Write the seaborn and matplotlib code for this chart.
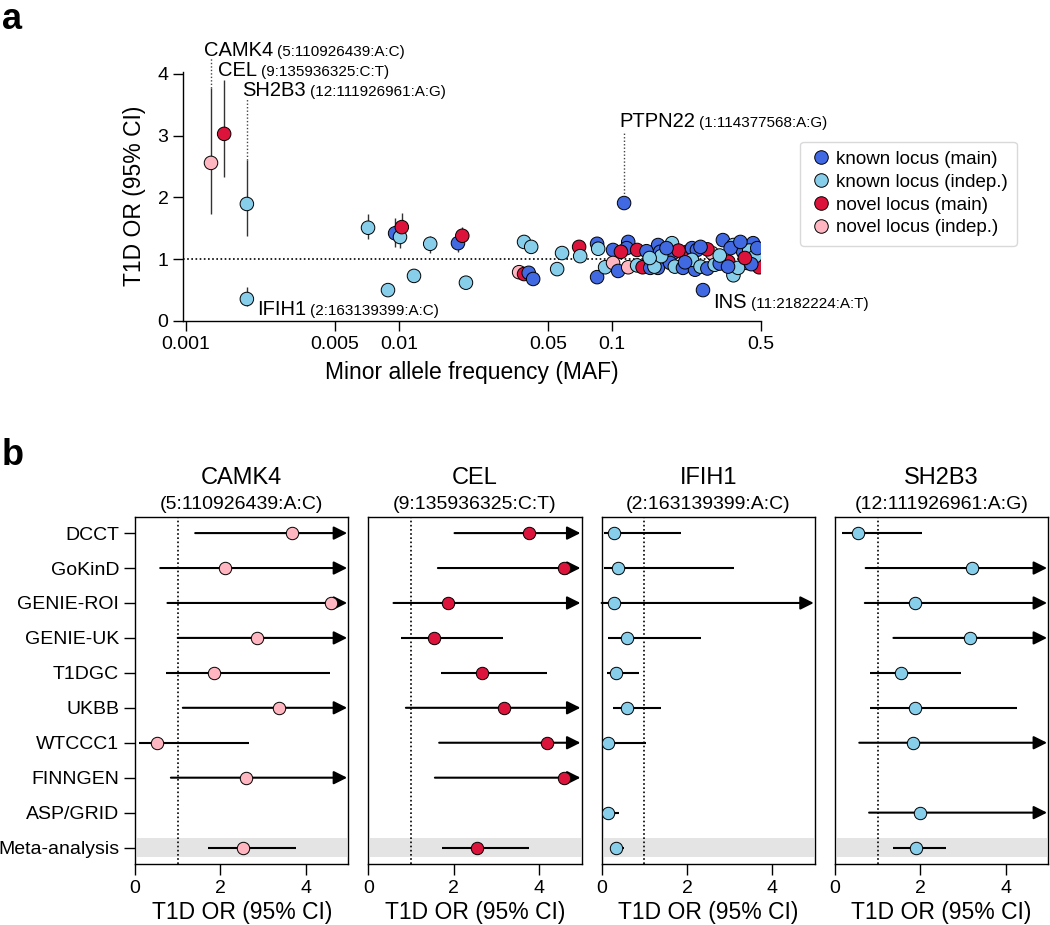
import numpy as np
import pandas as pd
import matplotlib
matplotlib.use('Agg')
import matplotlib.pyplot as plt
import seaborn as sns

sns.set_style('ticks')
plt.rcParams['font.family'] = ['Liberation Sans', 'DejaVu Sans']
plt.rcParams.update({'axes.linewidth': 1.0, 'text.color': 'black',
                     'axes.labelcolor': 'black', 'axes.edgecolor': 'black',
                     'xtick.color': 'black', 'ytick.color': 'black'})

# ---------------- panel a data ----------------
maf = [0.00131, 0.00151, 0.00193, 0.00193, 0.00715, 0.00958, 0.0101, 0.0103, 0.014, 0.0189,
       0.0198, 0.00887, 0.01175, 0.0206, 0.0386, 0.0417, 0.0366, 0.0386, 0.0406, 0.0426,
       0.0582, 0.0552, 0.1138, 0.070, 0.0708, 0.085, 0.086, 0.085, 0.101, 0.119,
       0.117, 0.131, 0.0927, 0.101, 0.1067, 0.119, 0.131, 0.139, 0.1644, 0.191,
       0.168, 0.193, 0.225, 0.237, 0.25, 0.294, 0.331, 0.371, 0.412, 0.459,
       0.49, 0.44, 0.151, 0.164, 0.158, 0.187, 0.197, 0.215, 0.245, 0.237,
       0.26, 0.28, 0.303, 0.351, 0.371, 0.43, 0.475, 0.49, 0.39, 0.267,
       0.205, 0.28, 0.36, 0.40, 0.47, 0.45, 0.32, 0.17, 0.145, 0.32,
       0.42, 0.26, 0.18, 0.22, 0.11, 0.48, 0.35, 0.15]
odds = [2.56, 3.03, 1.895, 0.356, 1.51, 1.42, 1.36, 1.52, 1.25, 1.26,
        1.38, 0.50, 0.73, 0.62, 1.28, 1.20, 0.79, 0.76, 0.78, 0.68,
        1.10, 0.84, 1.91, 1.20, 1.05, 1.25, 1.17, 0.71, 1.15, 1.28,
        1.18, 1.15, 0.87, 0.94, 0.81, 0.87, 0.90, 0.87, 1.23, 1.26,
        1.12, 1.10, 1.12, 1.18, 1.15, 1.10, 1.31, 1.23, 1.12, 1.26,
        1.12, 1.14, 0.86, 0.86, 0.88, 0.94, 0.88, 0.86, 0.83, 0.99,
        0.88, 0.85, 0.91, 0.96, 0.74, 0.94, 0.94, 0.87, 0.86, 0.50,
        1.14, 1.16, 1.18, 1.28, 1.05, 0.92, 0.93, 1.05, 1.13, 1.06,
        1.02, 1.20, 1.18, 0.95, 1.12, 1.18, 0.88, 1.02]
locus_type = ['ni', 'nm', 'ki', 'ki', 'ki', 'km', 'ki', 'nm', 'ki', 'km',
              'nm', 'ki', 'ki', 'ki', 'ki', 'ki', 'ni', 'nm', 'km', 'km',
              'ki', 'ki', 'km', 'nm', 'ki', 'km', 'ki', 'km', 'km', 'km',
              'km', 'nm', 'ki', 'ni', 'km', 'ni', 'ki', 'nm', 'km', 'ki',
              'km', 'km', 'nm', 'km', 'km', 'ni', 'km', 'ki', 'km', 'km',
              'km', 'ki', 'km', 'km', 'ki', 'km', 'ki', 'km', 'km', 'ki',
              'ki', 'km', 'ki', 'nm', 'ki', 'ki', 'nm', 'nm', 'ki', 'km',
              'nm', 'nm', 'km', 'km', 'ki', 'km', 'km', 'ki', 'km', 'ki',
              'nm', 'km', 'km', 'km', 'nm', 'km', 'km', 'ki']
# 95% CI of the low-frequency variants (others hidden behind markers)
ci_maf = [0.00131, 0.00151, 0.00193, 0.00193, 0.00715, 0.00958, 0.0101, 0.0103, 0.014, 0.0189, 0.0198]
ci_lo = [1.73, 2.33, 1.38, 0.25, 1.33, 1.20, 1.18, 1.30, 1.10, 1.12, 1.24]
ci_hi = [3.77, 3.90, 2.61, 0.55, 1.73, 1.67, 1.58, 1.75, 1.38, 1.42, 1.52]

group_names = {'km': 'known locus (main)', 'ki': 'known locus (indep.)',
               'nm': 'novel locus (main)', 'ni': 'novel locus (indep.)'}
palette = {'known locus (main)': '#4169E1', 'known locus (indep.)': '#87CEEB',
           'novel locus (main)': '#DC143C', 'novel locus (indep.)': '#FFB6C1'}

# ---------------- panel b data ----------------
cohorts = ['DCCT', 'GoKinD', 'GENIE-ROI', 'GENIE-UK', 'T1DGC', 'UKBB',
           'WTCCC1', 'FINNGEN', 'ASP/GRID', 'Meta-analysis']
genes = ['CAMK4', 'CEL', 'IFIH1', 'SH2B3']
variants = ['(5:110926439:A:C)', '(9:135936325:C:T)', '(2:163139399:A:C)', '(12:111926961:A:G)']
gene_colors = ['#FFB6C1', '#DC143C', '#87CEEB', '#87CEEB']
nan = np.nan
camk4_or = [3.67, 2.11, 4.59, 2.85, 1.84, 3.38, 0.52, 2.60, nan, 2.54]
camk4_lo = [1.41, 0.59, 0.76, 1.00, 0.73, 1.12, 0.10, 0.84, nan, 1.72]
camk4_hi = [9.0, 9.0, 9.0, 9.0, 4.57, 9.0, 2.67, 9.0, nan, 3.77]
cel_or = [3.77, 4.59, 1.86, 1.54, 2.66, 3.18, 4.19, 4.59, nan, 2.54]
cel_lo = [2.02, 1.63, 0.59, 0.76, 1.70, 0.88, 1.66, 1.56, nan, 1.72]
cel_hi = [9.0, 9.0, 9.0, 3.15, 4.18, 9.0, 9.0, 9.0, nan, 3.77]
ifih1_or = [0.30, 0.375, 0.30, 0.60, 0.34, 0.60, 0.16, nan, 0.16, 0.34]
ifih1_lo = [0.06, 0.06, 0.0, 0.16, 0.13, 0.27, 0.02, nan, 0.08, 0.23]
ifih1_hi = [1.85, 3.11, 9.0, 2.32, 0.88, 1.39, 1.03, nan, 0.41, 0.53]
sh2b3_or = [0.55, 3.20, 1.875, 3.16, 1.54, 1.875, 1.84, nan, 1.99, 1.89]
sh2b3_lo = [0.16, 0.72, 0.70, 1.37, 0.82, 0.82, 0.57, nan, 0.80, 1.37]
sh2b3_hi = [2.05, 9.0, 9.0, 9.0, 2.95, 4.26, 9.0, nan, 9.0, 2.60]
forest = [(camk4_or, camk4_lo, camk4_hi), (cel_or, cel_lo, cel_hi),
          (ifih1_or, ifih1_lo, ifih1_hi), (sh2b3_or, sh2b3_lo, sh2b3_hi)]

fig = plt.figure(figsize=(10.5, 9.25), dpi=100)

# ================= panel a =================
ax = fig.add_axes([0.1743, 0.6530, 0.5505, 0.2697])
df = pd.DataFrame({'maf': maf, 'or': odds, 'group': [group_names[g] for g in locus_type]})
ax.vlines(ci_maf, ci_lo, ci_hi, color='#333333', lw=1.0, zorder=1)
sns.scatterplot(data=df, x='maf', y='or', hue='group', palette=palette,
                hue_order=list(palette.keys()), s=95, edgecolor='black',
                linewidth=0.7, ax=ax, zorder=3)
ax.set_xscale('log')
ax.set_xlim(0.000968, 0.5)
ax.set_ylim(0, 4.04)
ax.axhline(1, color='black', lw=1.2, ls=(0, (1, 1.5)), zorder=0)
xt = [0.001, 0.005, 0.01, 0.05, 0.1, 0.5]
ax.set_xticks(xt)
ax.set_xticklabels([str(v) for v in xt])
ax.minorticks_off()
ax.set_yticks([0, 1, 2, 3, 4])
ax.tick_params(labelsize=14, length=7, width=1.0)
ax.set_xlabel('Minor allele frequency (MAF)', fontsize=16.5, labelpad=6)
ax.set_ylabel('T1D OR (95% CI)', fontsize=16.5, labelpad=8)
sns.despine(ax=ax)

handles, labels = ax.get_legend_handles_labels()
ax.legend(handles, labels, loc='upper left', bbox_to_anchor=(0.762, 0.847),
          bbox_transform=fig.transFigure, borderaxespad=0, fontsize=13.5,
          frameon=True, edgecolor='#d0d0d0', handletextpad=0.2, labelspacing=0.3,
          borderpad=0.5, handlelength=1.2, markerscale=1.0)


def annotate_variant(gene, coord, x, y):
    t = ax.text(x, y, gene, fontsize=14.5, ha='left', va='baseline', clip_on=False)
    ax.annotate(coord, xy=(1, 0), xycoords=t, xytext=(3, 0.5),
                textcoords='offset points', fontsize=11, ha='left', va='bottom')


annotate_variant('CAMK4', '(5:110926439:A:C)', 0.001215, 4.29)
annotate_variant('CEL', '(9:135936325:C:T)', 0.001413, 3.97)
annotate_variant('SH2B3', '(12:111926961:A:G)', 0.001832, 3.65)
annotate_variant('IFIH1', '(2:163139399:A:C)', 0.00215, 0.10)
annotate_variant('PTPN22', '(1:114377568:A:G)', 0.1079, 3.14)
annotate_variant('INS', '(11:2182224:A:T)', 0.298, 0.21)
dot = dict(color='#444444', lw=1.0, ls=(0, (1, 1.5)), zorder=0)
ax.plot([0.00131, 0.00131], [3.77, 4.26], clip_on=False, **dot)
ax.plot([0.00193, 0.00193], [2.61, 3.60], clip_on=False, **dot)
ax.plot([0.1138, 0.1138], [2.0, 3.07], clip_on=False, **dot)

# ================= panel b =================
lefts = [0.1286, 0.3508, 0.5730, 0.7952]
rows = np.arange(len(cohorts))
for i, gene in enumerate(genes):
    bx = fig.add_axes([lefts[i], 0.06595, 0.2032, 0.3755])
    or_, lo, hi = forest[i]
    bx.axhspan(8.74, 9.26, xmin=0.01, xmax=0.995, color='#e4e4e4', lw=0, zorder=0)
    bx.axvline(1, color='black', lw=1.2, ls=(0, (1, 1.5)), zorder=1)
    for r in rows:
        if np.isnan(or_[r]):
            continue
        if hi[r] > 5:
            bx.annotate('', xy=(4.97, r), xytext=(lo[r], r),
                        arrowprops=dict(arrowstyle='-|>', color='black', lw=1.5,
                                        mutation_scale=20, shrinkA=0, shrinkB=0),
                        zorder=2)
        else:
            bx.plot([lo[r], hi[r]], [r, r], color='black', lw=1.5, zorder=2,
                    solid_capstyle='butt')
    pts = pd.DataFrame({'or': or_, 'row': rows}).dropna()
    sns.scatterplot(data=pts, x='or', y='row', color=gene_colors[i], s=80,
                    edgecolor='black', linewidth=0.7, ax=bx, zorder=3, legend=False)
    bx.set_xlim(0, 5)
    bx.set_ylim(9.47, -0.47)
    bx.set_xticks([0, 2, 4])
    bx.set_yticks(rows)
    if i == 0:
        bx.set_yticklabels(cohorts)
    else:
        bx.tick_params(axis='y', left=False, labelleft=False)
    bx.tick_params(labelsize=14, length=8, width=1.0)
    bx.set_xlabel('T1D OR (95% CI)', fontsize=16.5, labelpad=3)
    bx.set_ylabel('')
    bx.text(0.5, 1.112, gene, transform=bx.transAxes, ha='center', va='center', fontsize=17)
    bx.text(0.5, 1.034, variants[i], transform=bx.transAxes, ha='center', va='center', fontsize=14)

fig.text(0.002, 0.998, 'a', fontsize=26, fontweight='bold', ha='left', va='top')
fig.text(0.002, 0.527, 'b', fontsize=26, fontweight='bold', ha='left', va='top')

fig.savefig('out.png', dpi=100)
